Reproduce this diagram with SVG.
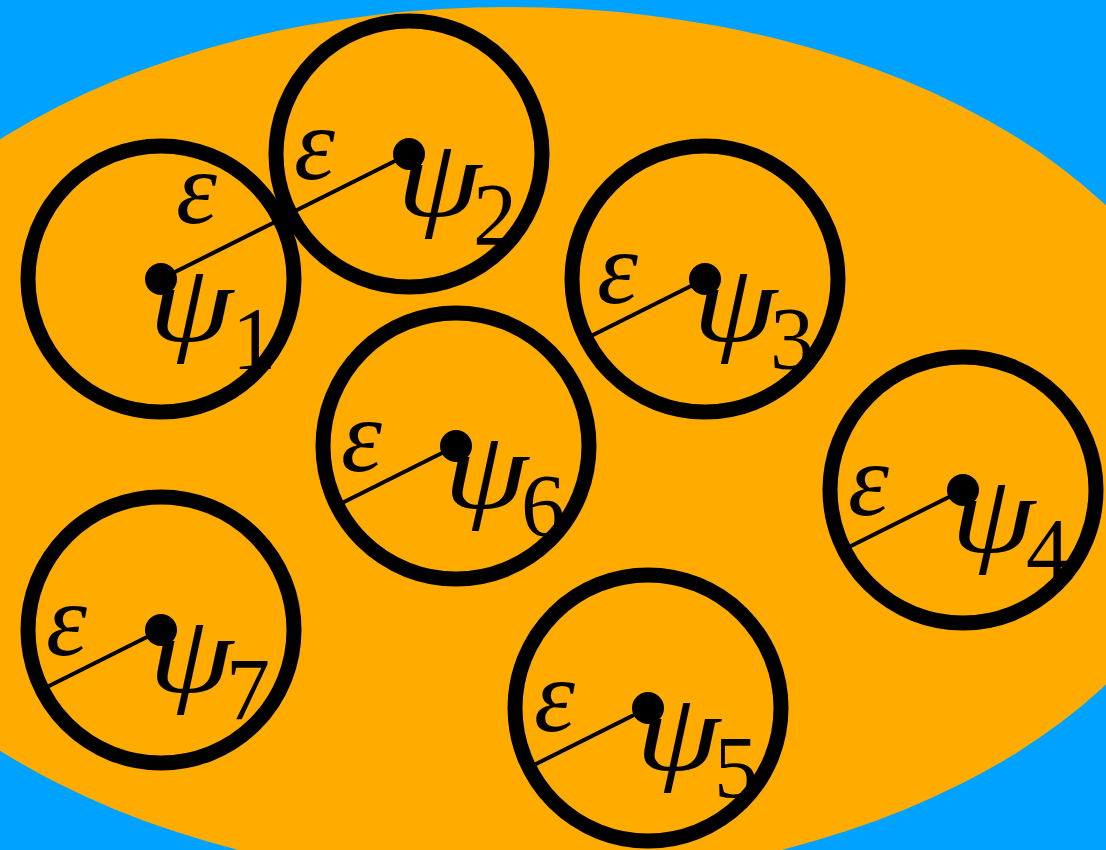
<svg xmlns="http://www.w3.org/2000/svg" width="1106" height="850" viewBox="0 0 1106 850">
<style>
.ring{fill:none;stroke:#000;stroke-width:15}
.dot{fill:#000}
.rad{stroke:#000;stroke-width:4}
.t{font-family:"Liberation Serif","Times New Roman",serif;fill:#000}
.psi{font-style:italic;font-size:110px}
.eps{font-style:italic;font-size:104px}
.sub{font-size:88px}
</style>
<rect x="0" y="0" width="1106" height="850" fill="#00A2FF"/>
<ellipse cx="510" cy="445" rx="712" ry="438" fill="#FFAB00"/>
<g id="connectors">
<line class="rad" x1="161" y1="279" x2="280" y2="219.5"/>
<line class="rad" x1="409" y1="154" x2="290" y2="213.5"/>
<line class="rad" x1="705" y1="279" x2="586" y2="338.5"/>
<line class="rad" x1="963" y1="490" x2="844" y2="549.5"/>
<line class="rad" x1="648" y1="708" x2="529" y2="767.5"/>
<line class="rad" x1="456" y1="446" x2="337" y2="505.5"/>
<line class="rad" x1="161" y1="630" x2="42" y2="689.5"/>
</g>
<g id="node1">
<circle class="ring" cx="161" cy="279" r="133"/>
<circle class="dot" cx="161" cy="279" r="16"/>
<text class="t eps" x="176" y="223">ε</text>
<text class="t psi" x="149" y="341" textLength="84" lengthAdjust="spacingAndGlyphs">ψ</text>
<text class="t sub" x="232" y="368">1</text>
</g>
<g id="node2">
<circle class="ring" cx="409" cy="154" r="133"/>
<circle class="dot" cx="409" cy="154" r="16"/>
<text class="t eps" x="294" y="179">ε</text>
<text class="t psi" x="397" y="216" textLength="84" lengthAdjust="spacingAndGlyphs">ψ</text>
<text class="t sub" x="473" y="244">2</text>
</g>
<g id="node3">
<circle class="ring" cx="705" cy="279" r="133"/>
<circle class="dot" cx="705" cy="279" r="16"/>
<text class="t eps" x="597" y="303">ε</text>
<text class="t psi" x="693" y="341" textLength="84" lengthAdjust="spacingAndGlyphs">ψ</text>
<text class="t sub" x="770" y="368">3</text>
</g>
<g id="node4">
<circle class="ring" cx="963" cy="490" r="133"/>
<circle class="dot" cx="963" cy="490" r="16"/>
<text class="t eps" x="848" y="515">ε</text>
<text class="t psi" x="951" y="552" textLength="84" lengthAdjust="spacingAndGlyphs">ψ</text>
<text class="t sub" x="1026" y="579">4</text>
</g>
<g id="node5">
<circle class="ring" cx="648" cy="708" r="133"/>
<circle class="dot" cx="648" cy="708" r="16"/>
<text class="t eps" x="534" y="731">ε</text>
<text class="t psi" x="636" y="770" textLength="84" lengthAdjust="spacingAndGlyphs">ψ</text>
<text class="t sub" x="714" y="797">5</text>
</g>
<g id="node6">
<circle class="ring" cx="456" cy="446" r="133"/>
<circle class="dot" cx="456" cy="446" r="16"/>
<text class="t eps" x="341" y="471">ε</text>
<text class="t psi" x="444" y="508" textLength="84" lengthAdjust="spacingAndGlyphs">ψ</text>
<text class="t sub" x="521" y="535">6</text>
</g>
<g id="node7">
<circle class="ring" cx="161" cy="630" r="133"/>
<circle class="dot" cx="161" cy="630" r="16"/>
<text class="t eps" x="46" y="655">ε</text>
<text class="t psi" x="149" y="692" textLength="84" lengthAdjust="spacingAndGlyphs">ψ</text>
<text class="t sub" x="226" y="719">7</text>
</g>
</svg>
